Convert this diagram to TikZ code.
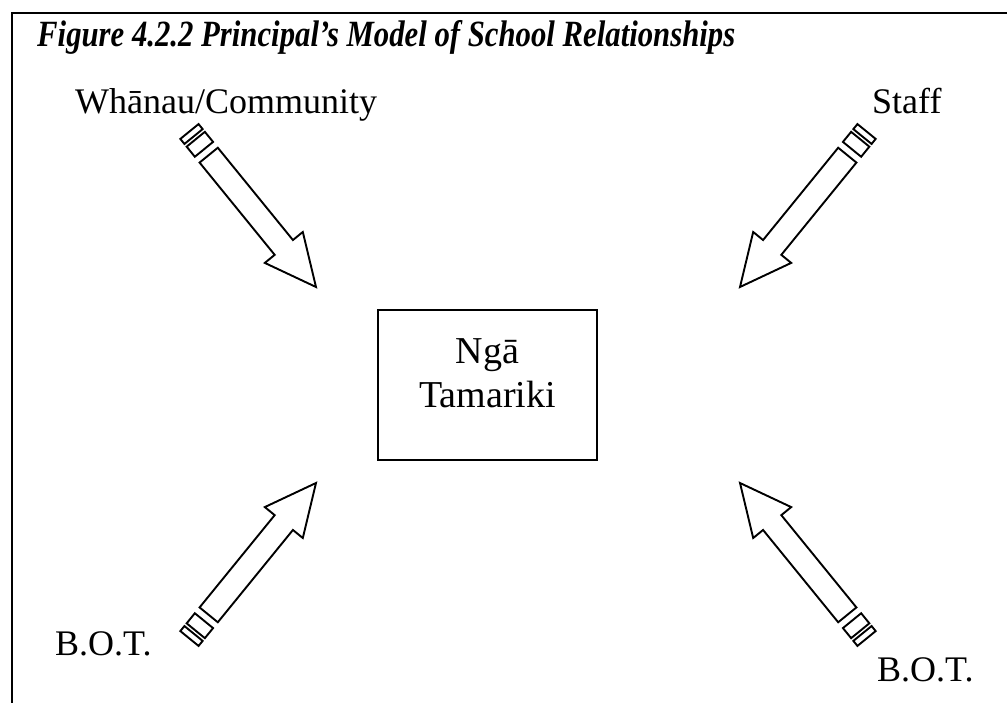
\documentclass[tikz,border=0pt]{standalone}
\usepackage{fontspec}
\setmainfont{Liberation Serif}
\begin{document}
\begin{tikzpicture}[x=1pt,y=-1pt,
  frameline/.style={line width=2.2pt},
  shapeline/.style={line width=1.9pt, line join=miter},
  lbl/.style={inner sep=0pt, font=\fontsize{36}{43}\selectfont},
  boxlbl/.style={inner sep=0pt, font=\fontsize{38}{44}\selectfont},
  centrebox/.style={draw, shapeline, minimum width=219pt, minimum height=150pt, inner sep=0pt},
  % striped block arrow: tip at the origin, pointing along +x
  pics/stripedarrow/.style={code={
    \draw[shapeline] (-170,-11.75) -- (-51,-11.75) -- (-51,-24.5) -- (0,0)
      -- (-51,24.5) -- (-51,11.75) -- (-170,11.75) -- cycle;
    \draw[shapeline] (-190.5,-11.75) rectangle (-177.5,11.75);
    \draw[shapeline] (-200.5,-11.75) rectangle (-194,11.75);
  }}]
\useasboundingbox (0,0) rectangle (1007,703);

% frame
\draw[frameline] (12,703) -- (12,13) -- (1007,13);

% caption
\node[anchor=base west, inner sep=0pt] (title) at (37,47)
  {\resizebox{698pt}{\height}{\fontsize{37}{43}\selectfont\bfseries\itshape Figure 4.2.2 Principal’s Model of School Relationships}};

% corner labels
\node[lbl, anchor=base west] (whanau) at (75,114) {Whānau/Community};
\node[lbl, anchor=base west] (staff) at (872,114) {Staff};
\node[lbl, anchor=base west] (botL) at (55,655) {B.O.T.};
\node[lbl, anchor=base west] (botR) at (877,681) {B.O.T.};

% centre box
\node[centrebox] (box) at (487.5,385) {};
\node[boxlbl, align=center] (boxtext) at (487.5,373) {Ngā\\Tamariki};

% arrows pointing to the centre
\coordinate (tipTL) at (316,287);
\coordinate (tipTR) at (740,287);
\coordinate (tipBL) at (316,483);
\coordinate (tipBR) at (740,483);
\pic[rotate=-50.86] at (tipTL) {stripedarrow};
\pic[rotate=-129.14] at (tipTR) {stripedarrow};
\pic[rotate=50.86] at (tipBL) {stripedarrow};
\pic[rotate=129.14] at (tipBR) {stripedarrow};
\end{tikzpicture}
\end{document}
